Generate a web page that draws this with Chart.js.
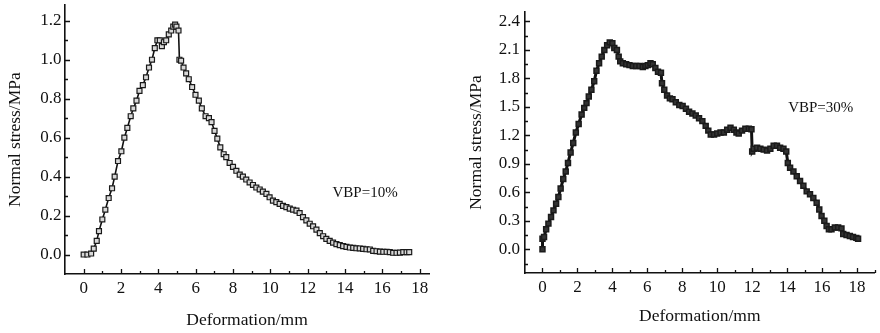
<!DOCTYPE html>
<html>
<head>
<meta charset="utf-8">
<script src="https://cdn.jsdelivr.net/npm/chart.js@4.4.1/dist/chart.umd.min.js"></script>
<style>
  body { margin: 0; background: #fff; }
  .wrap { position: absolute; top: 0; width: 440px; height: 333px; }
</style>
</head>
<body>
<div class="wrap" style="left:0"><canvas id="left"></canvas></div>
<div class="wrap" style="left:440px"><canvas id="right"></canvas></div>
<script>
// VBP = 10% curve (deformation mm, normal stress MPa)
const leftX = [0,0.2,0.4,0.54,0.7,0.82,1.0,1.16,1.34,1.52,
  1.66,1.84,2.02,2.18,2.34,2.52,2.66,2.83,2.99,3.17,
  3.34,3.5,3.66,3.81,3.95,4.08,4.19,4.3,4.42,4.56,
  4.69,4.8,4.9,4.97,5.08,5.13,5.22,5.35,5.49,5.63,
  5.81,5.99,6.17,6.33,6.53,6.71,6.85,7.01,7.16,7.32,
  7.5,7.64,7.82,8.0,8.18,8.36,8.53,8.71,8.89,9.07,
  9.25,9.43,9.6,9.79,9.96,10.14,10.32,10.5,10.68,10.86,
  11.04,11.22,11.4,11.57,11.75,11.93,12.11,12.29,12.47,12.65,
  12.83,13.0,13.18,13.36,13.54,13.72,13.9,14.08,14.26,14.44,
  14.61,14.79,14.97,15.15,15.33,15.51,15.69,15.87,16.05,16.23,
  16.4,16.58,16.76,16.94,17.12,17.3,17.44];
const leftY = [0,0,0.005,0.03,0.07,0.12,0.18,0.23,0.29,0.34,
  0.40,0.48,0.53,0.60,0.65,0.71,0.75,0.79,0.84,0.87,
  0.91,0.96,1.0,1.06,1.10,1.10,1.07,1.09,1.10,1.13,
  1.15,1.17,1.18,1.17,1.15,1.0,0.995,0.96,0.93,0.90,
  0.86,0.82,0.79,0.75,0.71,0.70,0.68,0.635,0.595,0.55,
  0.515,0.50,0.47,0.45,0.43,0.41,0.40,0.385,0.37,0.357,
  0.344,0.334,0.323,0.311,0.294,0.277,0.269,0.26,0.25,0.243,
  0.236,0.23,0.225,0.213,0.192,0.175,0.158,0.145,0.128,0.11,
  0.094,0.08,0.07,0.061,0.053,0.048,0.043,0.039,0.036,0.034,
  0.032,0.031,0.029,0.027,0.026,0.019,0.017,0.015,0.014,0.014,
  0.012,0.009,0.009,0.010,0.012,0.012,0.012];

// VBP = 30% curve
const rightX = [0,0,0.09,0.21,0.34,0.49,0.63,0.78,0.91,1.04,
  1.19,1.33,1.46,1.61,1.76,1.91,2.07,2.24,2.39,2.52,
  2.65,2.8,2.96,3.09,3.24,3.39,3.54,3.7,3.85,4.0,
  4.11,4.26,4.36,4.45,4.6,4.79,4.98,5.17,5.36,5.55,
  5.74,5.89,6.03,6.18,6.31,6.46,6.61,6.78,6.84,6.97,
  7.13,7.29,7.44,7.63,7.83,8.02,8.21,8.39,8.58,8.77,
  8.96,9.15,9.34,9.49,9.63,9.82,10.0,10.19,10.38,10.57,
  10.76,10.95,11.1,11.23,11.42,11.61,11.81,11.96,12.0,12.09,
  12.28,12.47,12.66,12.85,13.04,13.23,13.42,13.6,13.79,13.95,
  14.04,14.17,14.36,14.55,14.74,14.93,15.12,15.31,15.5,15.69,
  15.84,15.97,16.13,16.26,16.39,16.54,16.73,16.92,17.11,17.21,
  17.4,17.59,17.77,17.96,18.06];
const rightY = [0,0.11,0.13,0.21,0.27,0.34,0.41,0.48,0.55,0.64,
  0.74,0.82,0.91,1.02,1.12,1.23,1.32,1.42,1.49,1.54,
  1.61,1.68,1.77,1.88,1.96,2.03,2.10,2.15,2.18,2.17,
  2.12,2.10,2.03,1.98,1.96,1.95,1.94,1.93,1.93,1.93,
  1.92,1.93,1.94,1.96,1.95,1.91,1.87,1.86,1.75,1.68,
  1.62,1.59,1.58,1.55,1.52,1.51,1.48,1.45,1.43,1.41,
  1.38,1.35,1.30,1.25,1.21,1.21,1.22,1.23,1.23,1.26,
  1.28,1.26,1.23,1.22,1.25,1.27,1.27,1.265,1.03,1.06,
  1.07,1.06,1.05,1.04,1.06,1.09,1.09,1.07,1.06,1.03,
  0.91,0.86,0.82,0.77,0.72,0.67,0.61,0.58,0.54,0.49,
  0.42,0.35,0.30,0.245,0.21,0.21,0.23,0.23,0.22,0.16,
  0.15,0.14,0.13,0.12,0.11];

const xTicks = [0, 2, 4, 6, 8, 10, 12, 14, 16, 18];
const leftYTicks = [0, 0.2, 0.4, 0.6, 0.8, 1.0, 1.2];
const rightYTicks = [0, 0.3, 0.6, 0.9, 1.2, 1.5, 1.8, 2.1, 2.4];

const serif = "'Liberation Serif', 'Times New Roman', serif";
const ink = '#111';

// ticks drawn inward, like the original plot
const axisTicks = {
  id: 'axisTicks',
  afterDraw(chart, args, opts) {
    const { ctx, chartArea } = chart;
    const xs = chart.scales.x, ys = chart.scales.y;
    ctx.save();
    ctx.strokeStyle = ink;
    ctx.lineWidth = 1.3;
    ctx.beginPath();
    const xStep = opts.xStep / 2;
    for (let n = Math.ceil(xs.min / xStep - 1e-9); n * xStep <= xs.max + 1e-9; n++) {
      const v = n * xStep;
      if (Math.abs(v - xs.min) < 1e-9) continue;
      const px = Math.round(xs.getPixelForValue(v)) + 0.5;
      const len = Math.abs(n % 2) === 0 ? 5 : 3;
      ctx.moveTo(px, chartArea.bottom);
      ctx.lineTo(px, chartArea.bottom - len);
    }
    const yStep = opts.yStep / 2;
    for (let n = Math.ceil(ys.min / yStep - 1e-9); n * yStep <= ys.max + 1e-9; n++) {
      const v = n * yStep;
      if (Math.abs(v - ys.min) < 1e-9) continue;
      const py = Math.round(ys.getPixelForValue(v)) + 0.5;
      const len = Math.abs(n % 2) === 0 ? 5 : 3;
      ctx.moveTo(chartArea.left, py);
      ctx.lineTo(chartArea.left + len, py);
    }
    ctx.stroke();
    ctx.fillStyle = ink;
    ctx.font = '15px ' + serif;
    ctx.textBaseline = 'middle';
    ctx.fillText(opts.note, xs.getPixelForValue(opts.noteX), ys.getPixelForValue(opts.noteY));
    ctx.restore();
  }
};

function makeChart(id, xs, ys, o) {
  new Chart(document.getElementById(id), {
    type: 'line',
    data: {
      datasets: [{
        data: xs.map((x, i) => ({ x: x, y: ys[i] })),
        borderColor: ink,
        borderWidth: o.lineWidth,
        pointStyle: 'rect',
        pointRadius: o.pointRadius,
        pointBorderWidth: o.pointBorder,
        pointBorderColor: '#1a1a1a',
        pointBackgroundColor: o.pointFill,
        tension: 0
      }]
    },
    options: {
      responsive: true,
      maintainAspectRatio: false,
      animation: false,
      devicePixelRatio: 1,
      layout: { padding: { left: 0, right: o.padRight, top: o.padTop, bottom: 0 } },
      plugins: {
        legend: { display: false },
        tooltip: { enabled: false },
        axisTicks: { xStep: 2, yStep: o.yStep, note: o.note, noteX: o.noteX, noteY: o.noteY }
      },
      scales: {
        x: {
          type: 'linear',
          min: o.xMin, max: o.xMax,
          afterBuildTicks: s => { s.ticks = xTicks.map(v => ({ value: v })); },
          afterFit: s => { s.height = o.xHeight; s.paddingLeft = 0; s.paddingRight = 0; },
          grid: { display: false, drawTicks: false },
          border: { color: ink, width: 1.6 },
          ticks: { padding: 4, color: ink, font: { family: serif, size: 17 }, callback: v => String(v) },
          title: { display: true, text: 'Deformation/mm', color: ink,
                   font: { family: serif, size: 17.5 }, padding: { top: 0, bottom: o.xTitlePad } }
        },
        y: {
          min: o.yMin, max: o.yMax,
          afterBuildTicks: s => { s.ticks = o.yTicks.map(v => ({ value: v })); },
          afterFit: s => { s.width = o.yWidth; s.paddingTop = 0; s.paddingBottom = 0; },
          grid: { display: false, drawTicks: false },
          border: { color: ink, width: 1.6 },
          ticks: { padding: o.yTickPad, color: ink, font: { family: serif, size: 17 }, callback: v => Number(v).toFixed(1) },
          title: { display: true, text: 'Normal stress/MPa', color: ink,
                   font: { family: serif, size: 17.5 }, padding: { top: o.yTitlePad, bottom: 0 } }
        }
      }
    },
    plugins: [axisTicks]
  });
}

makeChart('left', leftX, leftY, {
  xMin: -1, xMax: 18.5, yMin: -0.1, yMax: 1.28, yTicks: leftYTicks, yStep: 0.2,
  padRight: 11, padTop: 5, xHeight: 59, yWidth: 65, yTickPad: 3.5,
  xTitlePad: 2.5, yTitlePad: 4.5,
  lineWidth: 1.6, pointRadius: 3.5, pointBorder: 1.2, pointFill: '#d8d8d8',
  note: 'VBP=10%', noteX: 13.33, noteY: 0.317
});

makeChart('right', rightX, rightY, {
  xMin: -1, xMax: 19, yMin: -0.25, yMax: 2.5, yTicks: rightYTicks, yStep: 0.3,
  padRight: 3, padTop: 12, xHeight: 60, yWidth: 85, yTickPad: 5,
  xTitlePad: 6, yTitlePad: 26,
  lineWidth: 3, pointRadius: 3.5, pointBorder: 1.5, pointFill: '#333',
  note: 'VBP=30%', noteX: 14.06, noteY: 1.49
});
</script>
</body>
</html>
